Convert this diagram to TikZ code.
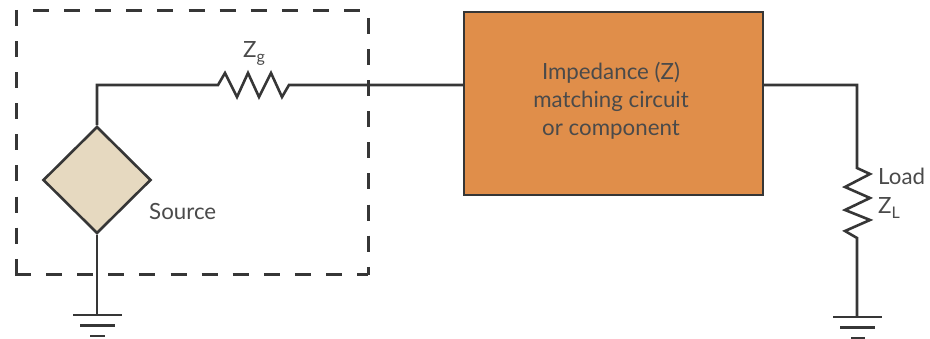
\documentclass[tikz,border=0pt]{standalone}
\usepackage{fontspec}
\setmainfont{Lato}
\usetikzlibrary{shapes.geometric}
\definecolor{wirec}{HTML}{363636}
\definecolor{textc}{HTML}{4A4A4A}
\definecolor{boxfill}{HTML}{E08E4A}
\definecolor{srcfill}{HTML}{E6D9C0}
\newcommand{\lowsub}[1]{\raisebox{-5pt}{\fontsize{16}{16}\selectfont #1}}
\tikzset{
  wire/.style={draw=wirec,line width=2.6pt,line join=miter},
  label text/.style={text=textc,font=\fontsize{22.3}{28}\selectfont,inner sep=0pt,align=center},
  matchbox/.style={rectangle,draw=wirec,line width=2.8pt,fill=boxfill,minimum width=299pt,minimum height=183pt,inner sep=0pt},
  srcdiamond/.style={diamond,draw=wirec,line width=2.6pt,fill=srcfill,minimum width=108pt,minimum height=107pt,inner sep=0pt},
  enclosure/.style={draw=wirec,line width=3pt,dash pattern=on 16pt off 15.1pt}
}
\begin{document}
\begin{tikzpicture}[x=1pt,y=-1pt]
\useasboundingbox (0,0) rectangle (930,339);
% enclosure
\draw[enclosure] (33,11) -- (368,11);
\draw[enclosure] (16,10) -- (16,275);
\draw[enclosure] (368,18) -- (368,275);
\draw[enclosure] (15,275) -- (368,275);
% components
\node[srcdiamond] (src) at (97,180) {};
\node[matchbox] (box) at (613.5,103.5) {};
\node[label text] (boxtxt) at (611,101) {Impedance (Z)\\matching circuit\\or component};
\node[label text,anchor=base west] (srclbl) at (149,220) {Source};
\node[label text,anchor=base west] (zg) at (243,58) {Z\lowsub{g}};
\node[label text,anchor=base west] (load) at (878,185) {Load};
\node[label text,anchor=base west] (zl) at (878,214) {Z\lowsub{L}};
% named junctions
\coordinate (corner1) at (97,85);
\coordinate (rgA) at (218,85);
\coordinate (rgB) at (289,85);
\coordinate (boxL) at (464,85);
\coordinate (boxR) at (763,85);
\coordinate (corner2) at (857,85);
\coordinate (rlA) at (857,168);
\coordinate (rlB) at (857,238);
\coordinate (gndS) at (97,315);
\coordinate (gndL) at (857,317);
% connectors
\draw[wire] (src.north) -- (corner1) -- (rgA)
  -- (225,73) -- (237,97) -- (248,73) -- (259,97) -- (271,73) -- (282,97) -- (rgB) -- (boxL);
\draw[wire] (boxR) -- (corner2) -- (rlA)
  -- (870,174) -- (845,187) -- (870,198) -- (845,210) -- (870,220) -- (845,231) -- (rlB) -- (gndL);
\draw[wire] (src.south) -- (gndS);
% grounds
\draw[wire] (73,315) -- (122,315);
\draw[wire] (80,325.5) -- (115,325.5);
\draw[wire] (90,336) -- (105,336);
\draw[wire] (833,317) -- (882,317);
\draw[wire] (840,327.5) -- (875,327.5);
\draw[wire] (851,338) -- (865,338);
\end{tikzpicture}
\end{document}
